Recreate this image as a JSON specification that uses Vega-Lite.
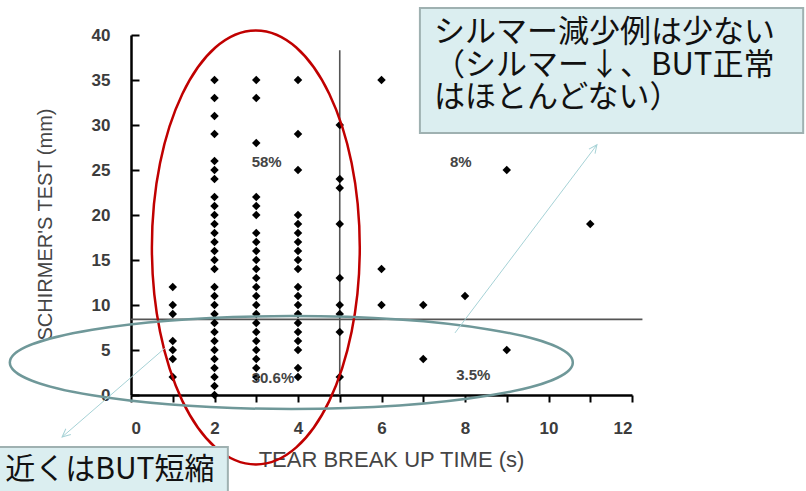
{
  "$schema": "https://vega.github.io/schema/vega-lite/v6.json",
  "width": 501,
  "height": 360,
  "autosize": {"type": "none"},
  "padding": {"left": 131, "top": 35, "right": 174, "bottom": 96},
  "background": "#ffffff",
  "config": {"view": {"stroke": null}},
  "datasets": {
    "pts": [
      {"t": 1, "s": 12}, {"t": 1, "s": 10}, {"t": 1, "s": 9}, {"t": 1, "s": 6}, {"t": 1, "s": 5}, {"t": 1, "s": 4}, {"t": 1, "s": 2},
      {"t": 2, "s": 35}, {"t": 2, "s": 33}, {"t": 2, "s": 31}, {"t": 2, "s": 29}, {"t": 2, "s": 26}, {"t": 2, "s": 25}, {"t": 2, "s": 24},
      {"t": 2, "s": 22}, {"t": 2, "s": 21}, {"t": 2, "s": 20}, {"t": 2, "s": 19}, {"t": 2, "s": 18}, {"t": 2, "s": 17}, {"t": 2, "s": 16},
      {"t": 2, "s": 15}, {"t": 2, "s": 14}, {"t": 2, "s": 12}, {"t": 2, "s": 11}, {"t": 2, "s": 10}, {"t": 2, "s": 9}, {"t": 2, "s": 8},
      {"t": 2, "s": 7}, {"t": 2, "s": 6}, {"t": 2, "s": 5}, {"t": 2, "s": 4}, {"t": 2, "s": 3}, {"t": 2, "s": 2}, {"t": 2, "s": 1}, {"t": 2, "s": 0},
      {"t": 3, "s": 35}, {"t": 3, "s": 33}, {"t": 3, "s": 28}, {"t": 3, "s": 22}, {"t": 3, "s": 21}, {"t": 3, "s": 20}, {"t": 3, "s": 18},
      {"t": 3, "s": 17}, {"t": 3, "s": 16}, {"t": 3, "s": 15}, {"t": 3, "s": 14}, {"t": 3, "s": 13}, {"t": 3, "s": 12}, {"t": 3, "s": 11},
      {"t": 3, "s": 10}, {"t": 3, "s": 9}, {"t": 3, "s": 8}, {"t": 3, "s": 7}, {"t": 3, "s": 6}, {"t": 3, "s": 5}, {"t": 3, "s": 4},
      {"t": 3, "s": 3}, {"t": 3, "s": 2},
      {"t": 4, "s": 35}, {"t": 4, "s": 29}, {"t": 4, "s": 25}, {"t": 4, "s": 20}, {"t": 4, "s": 19}, {"t": 4, "s": 18}, {"t": 4, "s": 17},
      {"t": 4, "s": 16}, {"t": 4, "s": 15}, {"t": 4, "s": 14}, {"t": 4, "s": 12}, {"t": 4, "s": 11}, {"t": 4, "s": 10}, {"t": 4, "s": 9},
      {"t": 4, "s": 8}, {"t": 4, "s": 7}, {"t": 4, "s": 6}, {"t": 4, "s": 5}, {"t": 4, "s": 3}, {"t": 4, "s": 2},
      {"t": 5, "s": 30}, {"t": 5, "s": 24}, {"t": 5, "s": 23}, {"t": 5, "s": 19}, {"t": 5, "s": 13}, {"t": 5, "s": 10}, {"t": 5, "s": 9},
      {"t": 5, "s": 7}, {"t": 5, "s": 2},
      {"t": 6, "s": 35}, {"t": 6, "s": 14}, {"t": 6, "s": 10},
      {"t": 7, "s": 35}, {"t": 7, "s": 10}, {"t": 7, "s": 4},
      {"t": 8, "s": 11},
      {"t": 9, "s": 25}, {"t": 9, "s": 5},
      {"t": 11, "s": 19}
    ],
    "cutoffs": [
      {"x": 5, "x2": 5, "y": 0, "y2": 38.3},
      {"x": 0, "x2": 12.25, "y": 8.4, "y2": 8.4}
    ],
    "shares": [
      {"x": 3.25, "y": 25.9, "label": "58%"},
      {"x": 7.9, "y": 25.9, "label": "8%"},
      {"x": 3.4, "y": 1.9, "label": "30.6%"},
      {"x": 8.2, "y": 2.2, "label": "3.5%"}
    ],
    "redRing": [{"x": 2.99, "y": 16.4}],
    "tealRing": [{"x": 3.84, "y": 3.61}],
    "pointers": [
      {"x": 7.76, "y": 6.9, "x2": 11.16, "y2": 27.8, "dir": 37},
      {"x": 0.81, "y": 5.2, "x2": -1.65, "y2": -4.67, "dir": 229}
    ],
    "boxes": [
      {"x": 6.92, "x2": 16.1, "y": 43.0, "y2": 29.1},
      {"x": -4.0, "x2": 2.32, "y": -5.78, "y2": -12.0}
    ],
    "noteLeft": [
      {"x": 7.26, "y": 40.2, "label": "シルマー減少例は少ない"},
      {"x": 7.26, "y": 36.6, "label": "（シルマー↓、BUT正常"},
      {"x": 7.26, "y": 32.95, "label": "はほとんどない）"}
    ],
    "noteRight": [
      {"x": 2.0, "y": -8.33, "label": "近くはBUT短縮"}
    ]
  },
  "encoding": {
    "x": {
      "field": "x", "type": "quantitative",
      "scale": {"domain": [0, 12], "nice": false, "zero": false},
      "axis": {
        "title": "TEAR BREAK UP TIME (s)",
        "values": [0, 1, 2, 3, 4, 5, 6, 7, 8, 9, 10, 11, 12],
        "labelExpr": "datum.value % 2 == 0 ? datum.label : ''",
        "grid": false,
        "domainColor": "#000000", "domainWidth": 2.5,
        "tickColor": "#000000", "tickWidth": 2, "tickSize": 7,
        "labelFont": "Liberation Sans", "labelFontWeight": "bold", "labelFontSize": 17,
        "labelColor": "#3c3c3c", "labelPadding": 18,
        "titleFont": "Liberation Sans", "titleFontWeight": "normal", "titleFontSize": 22,
        "titleColor": "#454545", "titleX": 260, "titleY": 64, "titleBaseline": "middle"
      }
    },
    "y": {
      "field": "y", "type": "quantitative",
      "scale": {"domain": [0, 40], "nice": false, "zero": false},
      "axis": {
        "title": "SCHIRMER'S TEST (mm)",
        "values": [0, 5, 10, 15, 20, 25, 30, 35, 40],
        "grid": false,
        "domainColor": "#000000", "domainWidth": 2.5,
        "tickColor": "#000000", "tickWidth": 2, "tickSize": -8,
        "labelFont": "Liberation Sans", "labelFontWeight": "bold", "labelFontSize": 17,
        "labelColor": "#3c3c3c", "labelPadding": 29,
        "titleFont": "Liberation Sans", "titleFontWeight": "normal", "titleFontSize": 20,
        "titleColor": "#454545", "titleX": -86, "titleY": 189, "titleBaseline": "middle"
      }
    }
  },
  "layer": [
    {
      "data": {"name": "cutoffs"},
      "mark": {"type": "rule", "color": "#555555", "strokeWidth": 1.6, "clip": false},
      "encoding": {"x2": {"field": "x2"}, "y2": {"field": "y2"}}
    },
    {
      "data": {"name": "pts"},
      "mark": {"type": "point", "shape": "diamond", "filled": true, "color": "#000000", "size": 72, "opacity": 1, "clip": false},
      "encoding": {"x": {"field": "t", "type": "quantitative"}, "y": {"field": "s", "type": "quantitative"}}
    },
    {
      "data": {"name": "shares"},
      "mark": {"type": "text", "font": "Liberation Sans", "fontWeight": "bold", "fontSize": 15, "color": "#444444", "align": "center", "baseline": "middle", "clip": false},
      "encoding": {"text": {"field": "label"}}
    },
    {
      "data": {"name": "redRing"},
      "mark": {
        "type": "point",
        "shape": "M0,-1 A0.479,1 0 1,1 0,1 A0.479,1 0 1,1 0,-1 Z",
        "filled": false, "stroke": "#c00000", "strokeWidth": 2.5, "opacity": 1,
        "size": 188356, "clip": false
      },
      "encoding": {}
    },
    {
      "data": {"name": "tealRing"},
      "mark": {
        "type": "point",
        "shape": "M-1,0 A1,0.165 0 1,1 1,0 A1,0.165 0 1,1 -1,0 Z",
        "filled": false, "stroke": "#6f9899", "strokeWidth": 2.5, "opacity": 1,
        "size": 316969, "clip": false
      },
      "encoding": {}
    },
    {
      "data": {"name": "pointers"},
      "mark": {"type": "rule", "color": "#a6d2d6", "strokeWidth": 1, "clip": false},
      "encoding": {"x2": {"field": "x2"}, "y2": {"field": "y2"}}
    },
    {
      "data": {"name": "pointers"},
      "mark": {
        "type": "point",
        "shape": "M-0.6,1.3 L0,0 L0.6,1.3",
        "filled": false, "stroke": "#a6d2d6", "strokeWidth": 1, "opacity": 1,
        "size": 160, "clip": false
      },
      "encoding": {
        "x": {"field": "x2", "type": "quantitative"},
        "y": {"field": "y2", "type": "quantitative"},
        "angle": {"field": "dir", "type": "quantitative", "scale": null}
      }
    },
    {
      "data": {"name": "boxes"},
      "mark": {"type": "rect", "fill": "#dbeef0", "stroke": "#9fb1b1", "strokeWidth": 2, "clip": false},
      "encoding": {"x2": {"field": "x2"}, "y2": {"field": "y2"}}
    },
    {
      "data": {"name": "noteLeft"},
      "mark": {"type": "text", "font": "Noto Sans CJK JP", "fontSize": 31, "color": "#111111", "align": "left", "baseline": "middle", "clip": false},
      "encoding": {"text": {"field": "label"}}
    },
    {
      "data": {"name": "noteRight"},
      "mark": {"type": "text", "font": "Noto Sans CJK JP", "fontSize": 30, "color": "#111111", "align": "right", "baseline": "middle", "clip": false},
      "encoding": {"text": {"field": "label"}}
    }
  ]
}
